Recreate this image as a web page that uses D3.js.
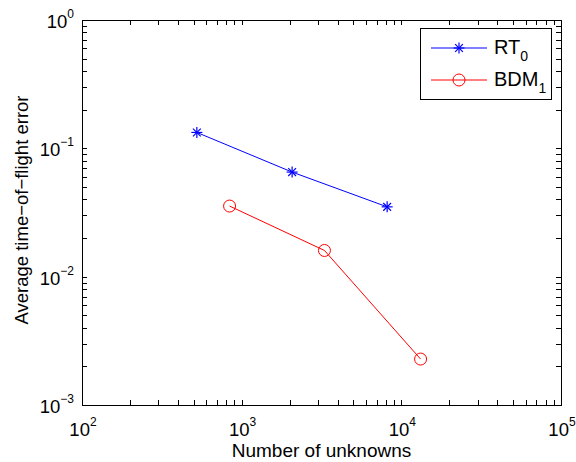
<!DOCTYPE html>
<html>
<head>
<meta charset="utf-8">
<script src="https://cdn.jsdelivr.net/npm/d3@7"></script>
<style>
  body { margin: 0; background: #fff; }
  text { font-family: "Liberation Sans", Arial, sans-serif; fill: #000; }
</style>
</head>
<body>
<div id="chart"></div>
<script>
// average time-of-flight error vs number of unknowns (log-log)
var rtUnknowns  = [524, 2070, 8150];
var rtError     = [0.133, 0.0653, 0.035];
var bdmUnknowns = [840, 3300, 13200];
var bdmError    = [0.0355, 0.016, 0.00228];

var xDecades = [2, 3, 4, 5];
var yDecades = [0, -1, -2, -3];

var width = 576, height = 462;
var pLeft = 82, pRight = 561, pTop = 20, pBottom = 405;

var x = d3.scaleLog().domain([1e2, 1e5]).range([pLeft, pRight]);
var y = d3.scaleLog().domain([1e-3, 1e0]).range([pBottom, pTop]);

var svg = d3.select("#chart").append("svg")
    .attr("width", width).attr("height", height);

// minor + major log ticks
function logTicks(lo, hi) {
    var t = [];
    for (var e = lo; e < hi; e++)
        for (var k = 1; k < 10; k++) t.push(k * Math.pow(10, e));
    t.push(Math.pow(10, hi));
    return t;
}
var xt = logTicks(2, 5), yt = logTicks(-3, 0);
var tl = 5;

var g = svg.append("g").attr("stroke", "#000").attr("stroke-width", 1).attr("shape-rendering", "crispEdges");
xt.forEach(function(v) {
    var px = Math.round(x(v)) + 0.5;
    g.append("line").attr("x1", px).attr("x2", px).attr("y1", pBottom).attr("y2", pBottom - tl);
    g.append("line").attr("x1", px).attr("x2", px).attr("y1", pTop).attr("y2", pTop + tl);
});
yt.forEach(function(v) {
    var py = Math.round(y(v)) + 0.5;
    g.append("line").attr("x1", pLeft).attr("x2", pLeft + tl).attr("y1", py).attr("y2", py);
    g.append("line").attr("x1", pRight).attr("x2", pRight - tl).attr("y1", py).attr("y2", py);
});
g.append("rect").attr("x", pLeft + 0.5).attr("y", pTop + 0.5)
    .attr("width", pRight - pLeft).attr("height", pBottom - pTop).attr("fill", "none");

// tick labels
xDecades.forEach(function(e) {
    var t = svg.append("text").attr("x", x(Math.pow(10, e)) + 1).attr("y", 436)
        .attr("text-anchor", "middle").attr("font-size", 18.5);
    t.append("tspan").text("10");
    t.append("tspan").attr("dy", -10).attr("font-size", 12).text(e);
});
yDecades.forEach(function(e) {
    var t = svg.append("text").attr("x", 74).attr("y", y(Math.pow(10, e)) + 8)
        .attr("text-anchor", "end").attr("font-size", 18.5);
    t.append("tspan").text("10");
    t.append("tspan").attr("dy", -10).attr("font-size", 12).text(e < 0 ? "\u2212" + (-e) : e);
});

// axis labels
svg.append("text").attr("x", (pLeft + pRight) / 2).attr("y", 457)
    .attr("text-anchor", "middle").attr("font-size", 19).text("Number of unknowns");
svg.append("text").attr("transform", "translate(28,210) rotate(-90)")
    .attr("text-anchor", "middle").attr("font-size", 18.5).text("Average time\u2212of\u2212flight error");

// series
var line = d3.line().x(function(d) { return x(d[0]); }).y(function(d) { return y(d[1]); });
var rt = d3.zip(rtUnknowns, rtError), bdm = d3.zip(bdmUnknowns, bdmError);

function star(sel, cx, cy) {
    var r = 5.5;
    var gs = sel.append("g").attr("stroke", "#0000ff").attr("stroke-width", 1.2);
    [0, 45, 90, 135].forEach(function(a) {
        var dx = r * Math.cos(a * Math.PI / 180), dy = r * Math.sin(a * Math.PI / 180);
        gs.append("line").attr("x1", cx - dx).attr("y1", cy - dy).attr("x2", cx + dx).attr("y2", cy + dy);
    });
}

svg.append("path").attr("d", line(rt)).attr("fill", "none").attr("stroke", "#0000ff").attr("stroke-width", 1);
rt.forEach(function(d) { star(svg, x(d[0]), y(d[1])); });

svg.append("path").attr("d", line(bdm)).attr("fill", "none").attr("stroke", "#ff0000").attr("stroke-width", 1);
bdm.forEach(function(d) {
    svg.append("circle").attr("cx", x(d[0])).attr("cy", y(d[1])).attr("r", 6)
        .attr("fill", "none").attr("stroke", "#ff0000").attr("stroke-width", 1);
});

// legend
var lg = svg.append("g");
lg.append("rect").attr("x", 420.5).attr("y", 28.5).attr("width", 131).attr("height", 71)
    .attr("fill", "#fff").attr("stroke", "#000").attr("stroke-width", 1);
lg.append("line").attr("x1", 431).attr("x2", 487).attr("y1", 48).attr("y2", 48).attr("stroke", "#0000ff");
star(lg, 459, 48);
lg.append("line").attr("x1", 431).attr("x2", 487).attr("y1", 80).attr("y2", 80).attr("stroke", "#ff0000");
lg.append("circle").attr("cx", 459).attr("cy", 80).attr("r", 6).attr("fill", "none").attr("stroke", "#ff0000");
var t1 = lg.append("text").attr("x", 494).attr("y", 54).attr("font-size", 20);
t1.append("tspan").text("RT");
t1.append("tspan").attr("dy", 7).attr("font-size", 14).text("0");
var t2 = lg.append("text").attr("x", 494).attr("y", 86).attr("font-size", 20);
t2.append("tspan").text("BDM");
t2.append("tspan").attr("dy", 7).attr("font-size", 14).text("1");
</script>
</body>
</html>
